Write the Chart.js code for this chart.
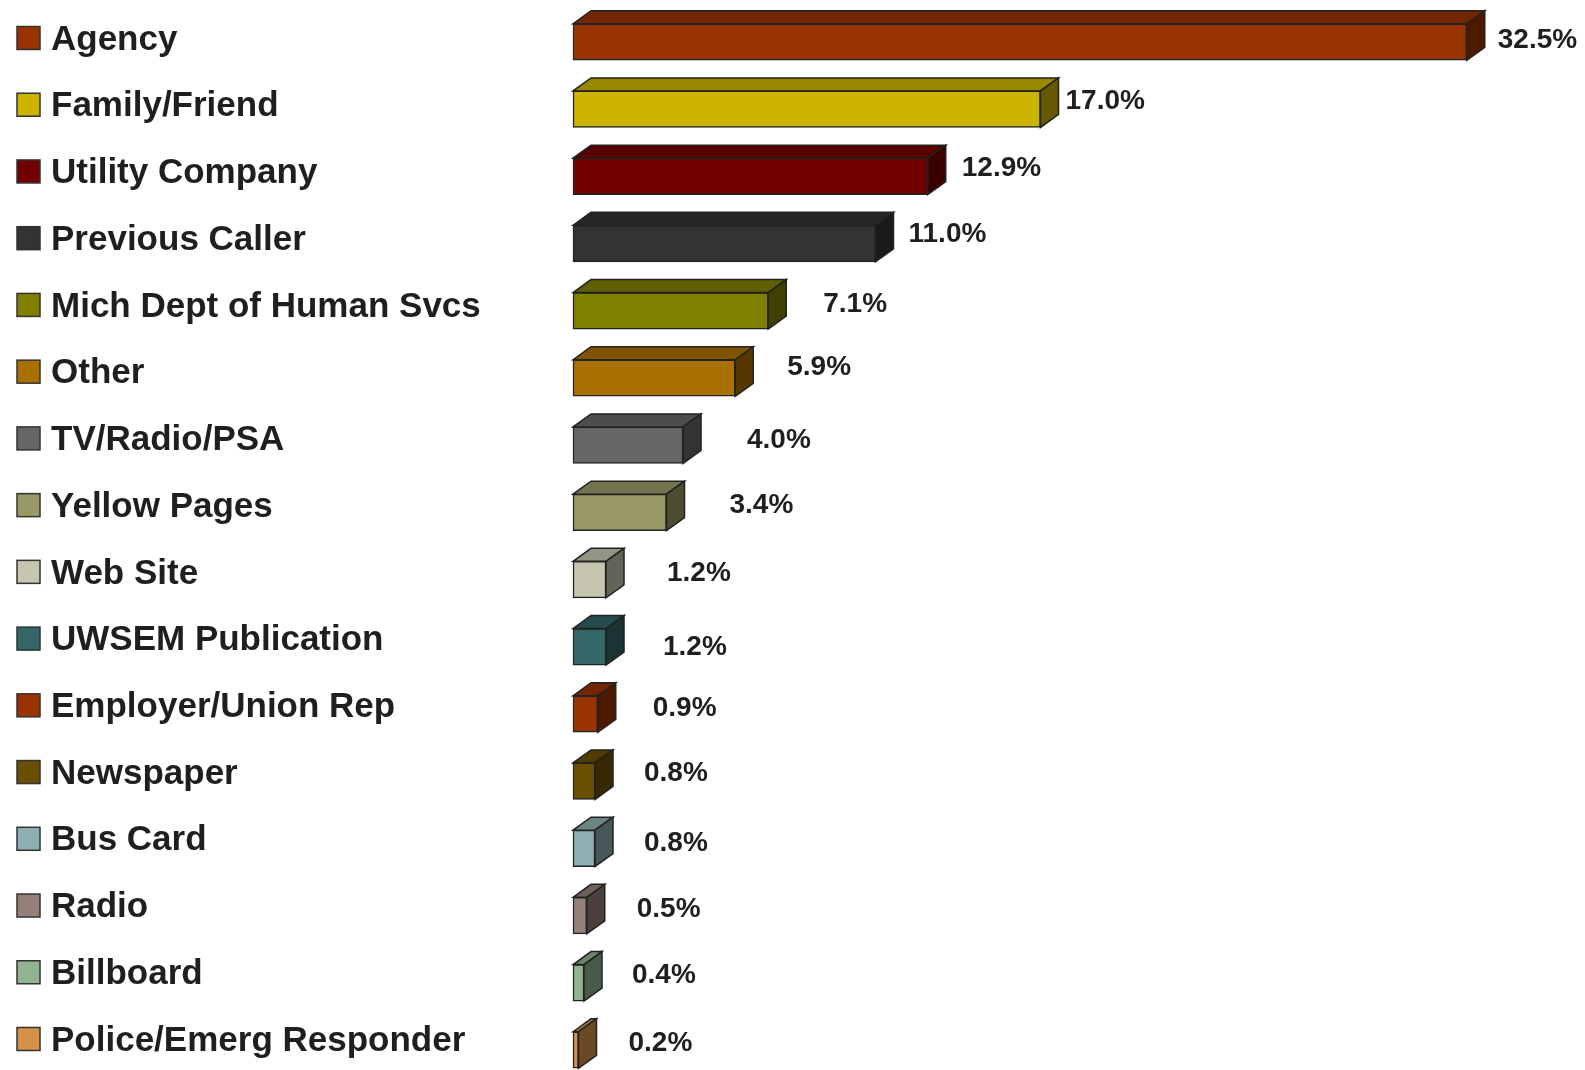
<!DOCTYPE html>
<html>
<head>
<meta charset="utf-8">
<script src="https://cdn.jsdelivr.net/npm/chart.js@4"></script>
<style>
  html, body { margin: 0; padding: 0; background: #fff; }
  #wrap { width: 1585px; height: 1070px; position: relative; }
</style>
</head>
<body>
<div id="wrap"><canvas id="stats"></canvas></div>
<script>
// data
const sources = [
  "Agency", "Family/Friend", "Utility Company", "Previous Caller",
  "Mich Dept of Human Svcs", "Other", "TV/Radio/PSA", "Yellow Pages",
  "Web Site", "UWSEM Publication", "Employer/Union Rep", "Newspaper",
  "Bus Card", "Radio", "Billboard", "Police/Emerg Responder"
];
const percents = [32.5, 17.0, 12.9, 11.0, 7.1, 5.9, 4.0, 3.4, 1.2, 1.2, 0.9, 0.8, 0.8, 0.5, 0.4, 0.2];

// styles
const colors = [
  "#993300", "#ccb400", "#730000", "#333333", "#808000", "#aa7000",
  "#666666", "#999966", "#c5c5b0", "#336666", "#993300", "#6b4f00",
  "#8fb0b3", "#948078", "#90b490", "#d49248"
];
// label nudges from the end of each bar (px)
const labelDx = [31, 25, 34, 33, 55, 52, 64, 63, 61, 57, 55, 49, 49, 50, 48, 50];
const labelDy = [-2, -8, -8, -9, -7, -11, -5, -7, -6, 0, -6, -8, -5, -6, -8, -7];

const DEPTH_X = 18, DEPTH_Y = 13;
const INK = "#1f1f1f";
const FONT = "'Liberation Sans', Arial, Helvetica, sans-serif";

function shade(hex, f) {
  const n = parseInt(hex.slice(1), 16);
  const r = Math.round(((n >> 16) & 255) * f);
  const g = Math.round(((n >> 8) & 255) * f);
  const b = Math.round((n & 255) * f);
  return `rgb(${r},${g},${b})`;
}

function poly(ctx, pts, fill) {
  ctx.beginPath();
  ctx.moveTo(pts[0][0], pts[0][1]);
  for (let k = 1; k < pts.length; k++) ctx.lineTo(pts[k][0], pts[k][1]);
  ctx.closePath();
  ctx.fillStyle = fill;
  ctx.fill();
  ctx.stroke();
}

// top + side faces and the value labels
const boxes3d = {
  id: "boxes3d",
  afterDatasetsDraw(chart) {
    const ctx = chart.ctx;
    const meta = chart.getDatasetMeta(0);
    ctx.save();
    ctx.lineWidth = 1.5;
    ctx.strokeStyle = "#222";
    ctx.lineJoin = "miter";
    meta.data.forEach((bar, i) => {
      const p = bar.getProps(["x", "y", "base", "height"], true);
      const top = p.y - p.height / 2, bottom = p.y + p.height / 2;
      poly(ctx, [[p.base, top], [p.base + DEPTH_X, top - DEPTH_Y], [p.x + DEPTH_X, top - DEPTH_Y], [p.x, top]], shade(colors[i], 0.75));
      poly(ctx, [[p.x, top], [p.x + DEPTH_X, top - DEPTH_Y], [p.x + DEPTH_X, bottom - DEPTH_Y], [p.x, bottom]], shade(colors[i], 0.5));
      ctx.fillStyle = INK;
      ctx.font = "bold 28px " + FONT;
      ctx.textAlign = "left";
      ctx.textBaseline = "middle";
      ctx.fillText(percents[i].toFixed(1) + "%", p.x + labelDx[i], p.y + labelDy[i]);
    });
    ctx.restore();
  },
  // legend squares beside the category labels
  afterDraw(chart) {
    const ctx = chart.ctx;
    const leg = chart.scales.legend;
    ctx.save();
    ctx.lineWidth = 1.5;
    ctx.strokeStyle = "#333";
    sources.forEach((s, i) => {
      const cy = leg.getPixelForValue(i) - 2;
      ctx.fillStyle = colors[i];
      ctx.fillRect(17, cy - 11.5, 23, 23);
      ctx.strokeRect(17, cy - 11.5, 23, 23);
    });
    ctx.restore();
  }
};

Chart.defaults.font.family = FONT;

new Chart(document.getElementById("stats").getContext("2d"), {
  type: "bar",
  data: {
    labels: sources,
    datasets: [{
      data: percents,
      backgroundColor: colors,
      borderColor: "#222",
      borderWidth: 1.5,
      borderSkipped: false,
      barThickness: 36.5,
      clip: false
    }]
  },
  options: {
    indexAxis: "y",
    responsive: true,
    maintainAspectRatio: false,
    animation: false,
    layout: { padding: { left: 51, right: 22, top: 42, bottom: 20 } },
    plugins: { legend: { display: false }, tooltip: { enabled: false } },
    scales: {
      x: { display: false, min: 0, max: 36 },
      y: { display: false, offset: false },
      // legend list on the left: its rows are spaced a little tighter than the bars
      legend: {
        type: "linear",
        position: "left",
        reverse: true,
        offset: false,
        min: 0.03,
        max: 15.135,
        grid: { display: false, offset: false },
        border: { display: false },
        afterBuildTicks(scale) { scale.ticks = sources.map((s, i) => ({ value: i })); },
        afterFit(scale) { scale.width = 522; },
        ticks: {
          autoSkip: false,
          crossAlign: "far",
          padding: 0,
          color: INK,
          font: { size: 35, weight: "bold", lineHeight: 1 },
          callback: (value) => sources[value]
        }
      }
    }
  },
  plugins: [boxes3d]
});
</script>
</body>
</html>
